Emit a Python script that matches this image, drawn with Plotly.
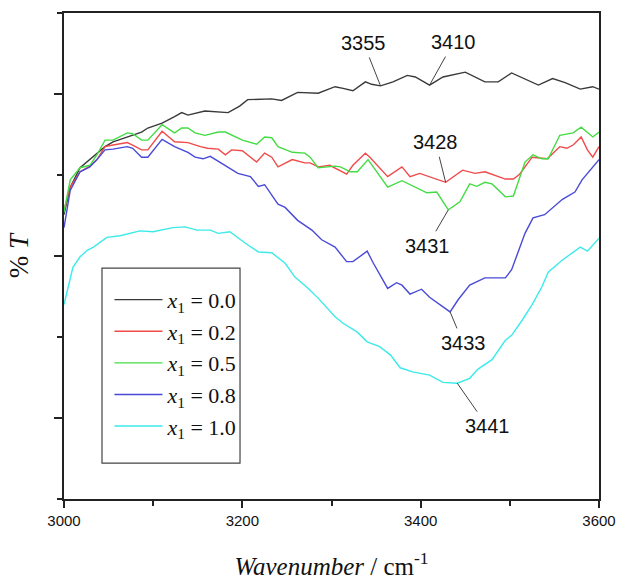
import numpy as np
import plotly.graph_objects as go

# ---- data ----
wn_00 = [3000, 3007, 3018, 3029, 3046, 3055, 3071, 3087, 3094, 3110, 3124, 3132, 3139, 3153, 3158,
         3184, 3197, 3206, 3233, 3244, 3262, 3285, 3304, 3313, 3324, 3338, 3345, 3355, 3369, 3385,
         3394, 3410, 3425, 3450, 3472, 3487, 3502, 3532, 3548, 3562, 3579, 3593, 3600]
T_00 = [35.1, 38.5, 40.9, 41.9, 43.5, 44.1, 44.7, 45.3, 45.8, 46.4, 47.2, 47.7, 47.4, 47.8, 47.9,
        47.7, 48.5, 49.3, 49.4, 49.2, 50.2, 50.1, 50.9, 50.7, 50.4, 51.5, 51.2, 51.0, 51.5, 52.3,
        52.1, 51.1, 52.1, 52.7, 51.5, 51.5, 52.6, 51.1, 51.9, 51.4, 50.6, 50.9, 50.6]

wn_02 = [3000, 3007, 3018, 3029, 3037, 3046, 3055, 3071, 3077, 3087, 3094, 3110, 3124, 3139, 3153,
         3161, 3173, 3181, 3188, 3200, 3216, 3225, 3233, 3240, 3256, 3270, 3276, 3285, 3298, 3317,
         3324, 3338, 3343, 3363, 3379, 3388, 3399, 3410, 3428, 3447, 3455, 3461, 3472, 3495, 3504,
         3511, 3525, 3532, 3542, 3556, 3564, 3571, 3580, 3587, 3593, 3600]
T_02 = [35.7, 38.5, 40.4, 41.1, 41.9, 43.5, 43.7, 44.0, 43.7, 43.1, 43.1, 45.4, 44.1, 44.0, 43.5,
        43.3, 43.2, 42.5, 43.1, 43.0, 41.6, 42.7, 42.2, 41.0, 41.9, 41.5, 41.5, 41.0, 41.2, 40.1,
        41.2, 42.7, 42.2, 39.8, 41.0, 39.8, 40.2, 39.8, 39.1, 40.6, 40.4, 40.2, 40.4, 39.5, 39.5,
        40.1, 42.2, 42.1, 42.0, 43.5, 43.3, 43.7, 44.7, 43.1, 42.2, 43.5]

wn_05 = [3000, 3007, 3018, 3029, 3037, 3046, 3055, 3071, 3077, 3087, 3094, 3110, 3124, 3132, 3139,
         3147, 3158, 3173, 3181, 3188, 3200, 3216, 3225, 3233, 3240, 3256, 3270, 3276, 3285, 3304,
         3310, 3321, 3329, 3341, 3363, 3379, 3396, 3407, 3418, 3431, 3444, 3455, 3463, 3472, 3480,
         3495, 3504, 3517, 3526, 3536, 3543, 3556, 3571, 3580, 3593, 3600]
T_05 = [35.4, 39.4, 40.9, 41.2, 42.5, 44.3, 44.3, 45.2, 45.1, 44.3, 44.3, 46.2, 45.2, 45.8, 45.8,
        45.2, 44.9, 45.3, 45.3, 44.9, 44.3, 43.8, 44.7, 44.6, 43.5, 42.8, 42.7, 42.2, 40.9, 41.1,
        41.0, 40.4, 40.4, 41.9, 38.5, 39.3, 38.4, 37.8, 37.9, 35.7, 36.7, 38.9, 38.6, 39.1, 38.9,
        37.3, 37.4, 41.6, 42.5, 42.0, 42.0, 44.9, 45.2, 45.9, 44.7, 45.3]

wn_08 = [3000, 3007, 3018, 3029, 3037, 3046, 3055, 3071, 3077, 3087, 3094, 3110, 3124, 3139, 3147,
         3156, 3164, 3181, 3195, 3209, 3218, 3225, 3240, 3248, 3262, 3278, 3289, 3304, 3317, 3324,
         3340, 3347, 3363, 3373, 3379, 3388, 3401, 3410, 3433, 3442, 3455, 3472, 3495, 3502, 3517,
         3526, 3539, 3559, 3573, 3581, 3600]
T_08 = [33.5, 38.1, 40.4, 41.0, 41.9, 43.1, 43.2, 43.5, 43.3, 42.2, 42.2, 44.4, 43.5, 42.8, 42.2,
        42.0, 42.3, 41.1, 40.2, 39.8, 38.6, 38.8, 36.4, 36.0, 34.4, 33.2, 32.0, 31.1, 29.3, 29.3,
        30.6, 29.1, 26.0, 26.7, 26.4, 25.3, 25.9, 24.9, 23.1, 24.6, 26.4, 27.3, 27.3, 28.3, 32.8,
        34.7, 35.1, 37.0, 37.9, 39.4, 41.9]

wn_10 = [3000, 3010, 3018, 3026, 3033, 3048, 3063, 3085, 3100, 3122, 3136, 3149, 3164, 3173, 3186,
         3203, 3218, 3233, 3248, 3259, 3274, 3285, 3304, 3313, 3329, 3340, 3354, 3366, 3377, 3391,
         3410, 3425, 3441, 3455, 3464, 3480, 3495, 3502, 3514, 3525, 3536, 3543, 3559, 3570, 3579,
         3587, 3600]
T_10 = [24.0, 28.6, 29.9, 30.7, 31.1, 32.3, 32.5, 33.1, 33.0, 33.5, 33.6, 33.2, 33.2, 32.8, 33.0,
        31.6, 30.5, 30.4, 29.1, 27.4, 26.0, 24.8, 22.5, 21.7, 20.6, 19.4, 18.8, 17.8, 16.2, 15.7,
        15.3, 14.4, 14.3, 14.9, 16.0, 17.2, 19.6, 20.2, 22.1, 24.0, 26.2, 28.0, 29.5, 30.4, 31.1,
        30.6, 32.2]

series_names = ["0.0", "0.2", "0.5", "0.8", "1.0"]
series_colors = ["#3a3a3a", "#f04a4a", "#44dc44", "#4a4ad8", "#3ceaea"]

# peak labels: (wavenumber, curve index)
peak_wn = [3355, 3410, 3428, 3431, 3433, 3441]
peak_curve = [0, 0, 1, 2, 3, 4]
peak_offset = [(-17, -43), (24, -43), (-10, -40), (-21, 36), (13, 31), (30, 43)]

x_major = [3000, 3200, 3400, 3600]
x_minor = [3100, 3300, 3500]
y_major = [10, 30, 50]
y_minor = [0, 20, 40, 60]

wns = [wn_00, wn_02, wn_05, wn_08, wn_10]
Ts = [T_00, T_02, T_05, T_08, T_10]

fig = go.Figure()
for w, t, n, c in zip(wns, Ts, series_names, series_colors):
    fig.add_trace(go.Scatter(
        x=w, y=t, mode="lines", line=dict(color=c, width=1.4),
        name="<i>x</i><sub>1</sub> = " + n,
    ))

for pw, ci, (ax, ay) in zip(peak_wn, peak_curve, peak_offset):
    py = float(np.interp(pw, wns[ci], Ts[ci]))
    fig.add_annotation(
        x=pw, y=py, xref="x", yref="y", text=str(pw),
        showarrow=True, arrowhead=0, arrowwidth=1, arrowcolor="#444444",
        ax=ax, ay=ay, borderpad=3,
        font=dict(family="Liberation Sans, Arial", size=20, color="#111111"),
    )

# legend frame
fig.add_shape(type="rect", xref="paper", yref="paper",
              x0=0.071, x1=0.329, y0=0.074, y1=0.475,
              line=dict(color="#444444", width=1.2), fillcolor="rgba(0,0,0,0)")

axis_common = dict(
    showline=True, linecolor="#222222", linewidth=1.6, mirror=True,
    showgrid=False, zeroline=False, ticks="outside", tickcolor="#222222",
    tickwidth=1.6, automargin=False,
)

fig.update_xaxes(
    range=[3000, 3600], tickmode="array", tickvals=x_major, ticklen=7,
    minor=dict(tickmode="array", tickvals=x_minor, ticklen=5, ticks="outside",
               tickcolor="#222222", tickwidth=1.6),
    tickfont=dict(family="Liberation Sans, Arial", size=15, color="#111111"),
    title=dict(text="<i>Wavenumber</i> / cm<sup>-1</sup>",
               font=dict(family="Liberation Serif, Times New Roman", size=25, color="#111111"),
               standoff=30),
    **axis_common,
)
fig.update_yaxes(
    range=[0, 60], tickmode="array", tickvals=y_major, ticklen=8, showticklabels=False,
    minor=dict(tickmode="array", tickvals=y_minor, ticklen=5, ticks="outside",
               tickcolor="#222222", tickwidth=1.6),
    title=dict(text="% <i>T</i>",
               font=dict(family="Liberation Serif, Times New Roman", size=27, color="#111111"),
               standoff=18),
    **axis_common,
)

fig.update_layout(
    width=617, height=580,
    margin=dict(l=64, r=18, t=13, b=81),
    plot_bgcolor="white", paper_bgcolor="white",
    legend=dict(
        x=0.085, y=0.453, xanchor="left", yanchor="top",
        bgcolor="rgba(255,255,255,0)", borderwidth=0,
        font=dict(family="Liberation Serif, Times New Roman", size=22, color="#111111"),
        itemwidth=48, tracegroupgap=0,
    ),
)

fig.write_html("out.html")
